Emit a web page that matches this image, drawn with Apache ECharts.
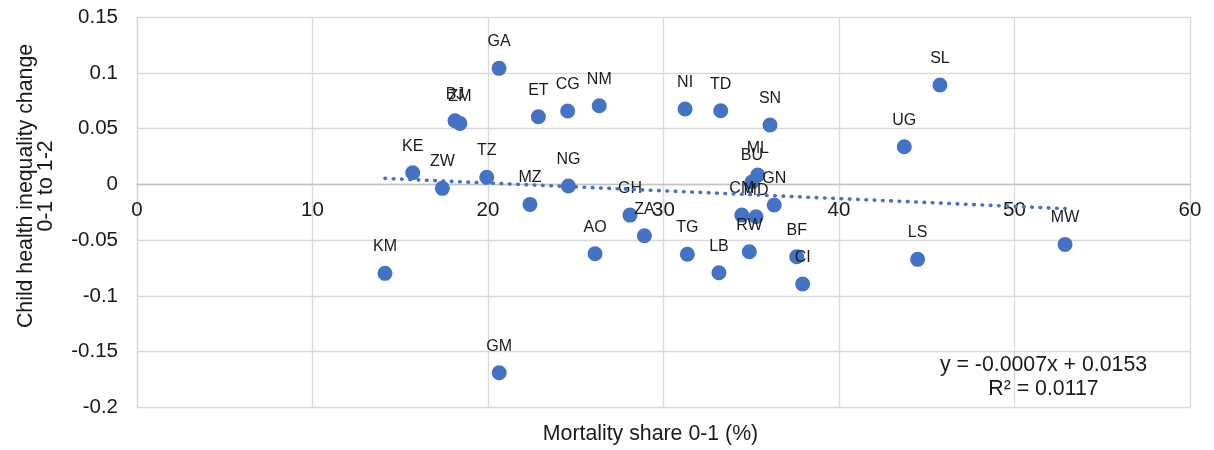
<!DOCTYPE html>
<html>
<head>
<meta charset="utf-8">
<script src="https://cdn.jsdelivr.net/npm/echarts@6/dist/echarts.min.js"></script>
<style>
  html, body { margin: 0; padding: 0; background: #fff; }
  #chart { width: 1214px; height: 450px; }
</style>
</head>
<body>
<div id="chart"></div>
<script>
// Country codes with mortality share 0-1 (%) and child health inequality change (0-1 to 1-2)
const countries = ['GA','SL','BJ','ZM','ET','CG','NM','NI','TD','SN','UG','KE','ZW','TZ','NG','MZ',
  'KM','AO','GM','ZA','GH','ML','BU','GN','CM','MD','TG','LB','RW','BF','CI','LS','MW'];
const mortalityShare = [20.63, 45.75, 18.12, 18.40, 22.87, 24.54, 26.34, 31.23, 33.26, 36.07, 43.72, 15.71, 17.40, 19.93, 24.58, 22.39,
  14.13, 26.10, 20.64, 28.91, 28.09, 35.37, 35.04, 36.31, 34.46, 35.27, 31.36, 33.16, 34.89, 37.59, 37.93, 44.48, 52.88];
const inequalityChange = [0.1042, 0.0892, 0.0572, 0.0548, 0.0608, 0.0659, 0.0706, 0.0677, 0.0661, 0.0533, 0.0338, 0.0105, -0.0035, 0.0064, -0.0014, -0.0179,
  -0.0798, -0.0622, -0.169, -0.046, -0.0275, 0.0084, 0.0022, -0.0185, -0.0275, -0.029, -0.0627, -0.0792, -0.0604, -0.0649, -0.0894, -0.0672, -0.0538];

// Linear trend as reported: y = slope * x + intercept
const trendSlope = -0.0007;
const trendIntercept = 0.0153;
const trendR2 = 0.0117;

const xTicks = [0, 10, 20, 30, 40, 50, 60];
const yTicks = [-0.2, -0.15, -0.1, -0.05, 0, 0.05, 0.1, 0.15];

const FONT = '"Liberation Sans", Arial, sans-serif';
const BLUE = '#4472C4';
const TEXT = '#1a1a1a';
const GRID = '#d9d9d9';

// Plot box
const GRID_TOP = 17.3, GRID_BOTTOM = 42.7, CHART_H = 450;
const plotH = CHART_H - GRID_TOP - GRID_BOTTOM;
const yMin = yTicks[0], yMax = yTicks[yTicks.length - 1];
// Lift the category axis (line + labels) from the bottom edge up to y = 0
const zeroLift = plotH * (0 - yMin) / (yMax - yMin);

const points = countries.map((c, i) => ({ name: c, value: [mortalityShare[i], inequalityChange[i]] }));
const xMinData = Math.min(...mortalityShare);
const xMaxData = Math.max(...mortalityShare);
const trend = [xMinData, xMaxData].map(x => [x, trendSlope * x + trendIntercept]);

const chart = echarts.init(document.getElementById('chart'), null, { renderer: 'canvas' });
chart.setOption({
  animation: false,
  backgroundColor: '#fff',
  textStyle: { fontFamily: FONT },
  grid: { left: 137, right: 24, top: GRID_TOP, bottom: GRID_BOTTOM, containLabel: false },
  xAxis: {
    type: 'value',
    min: xTicks[0], max: xTicks[xTicks.length - 1], interval: 10,
    position: 'bottom',
    offset: -zeroLift,
    axisLine: { show: true, onZero: false, lineStyle: { color: '#c4c4c4', width: 1.3 } },
    axisTick: { show: false },
    axisLabel: { fontSize: 20.5, color: TEXT, fontFamily: FONT, margin: 15 },
    splitLine: { show: true, lineStyle: { color: GRID, width: 1.3 } }
  },
  yAxis: {
    type: 'value',
    min: yMin, max: yMax, interval: 0.05,
    axisLine: { show: true, onZero: false, lineStyle: { color: GRID, width: 1.3 } },
    axisTick: { show: false },
    axisLabel: {
      fontSize: 20.5, color: TEXT, fontFamily: FONT, margin: 19,
      formatter: v => String(parseFloat(v.toFixed(2)))
    },
    splitLine: { show: true, lineStyle: { color: GRID, width: 1.3 } }
  },
  series: [
    {
      type: 'scatter',
      data: points,
      symbol: 'circle',
      symbolSize: 15,
      itemStyle: { color: BLUE, opacity: 1 },
      label: {
        show: true,
        position: 'top',
        distance: 11,
        formatter: p => p.name,
        fontSize: 16,
        color: TEXT,
        fontFamily: FONT
      },
      z: 3
    },
    {
      type: 'line',
      data: trend,
      symbol: 'none',
      lineStyle: { color: BLUE, width: 3.6, type: [0.6, 7.7], cap: 'round' },
      silent: true,
      z: 4
    }
  ],
  graphic: [
    {
      type: 'text',
      x: 36, y: 186,
      rotation: Math.PI / 2,
      style: {
        text: 'Child health inequality change\n0-1 to 1-2',
        font: '21.3px ' + FONT,
        fill: TEXT,
        align: 'center',
        verticalAlign: 'middle',
        lineHeight: 20
      }
    },
    {
      type: 'text',
      x: 650.5, y: 434,
      style: {
        text: 'Mortality share 0-1 (%)',
        font: '21.3px ' + FONT,
        fill: TEXT,
        align: 'center',
        verticalAlign: 'middle'
      }
    },
    {
      type: 'text',
      x: 1043.5, y: 377,
      style: {
        text: 'y = ' + trendSlope.toFixed(4) + 'x + ' + trendIntercept.toFixed(4) + '\nR\u00B2 = ' + trendR2.toFixed(4),
        font: '21.3px ' + FONT,
        fill: TEXT,
        align: 'center',
        verticalAlign: 'middle',
        lineHeight: 24
      },
      z: 10
    }
  ]
});
</script>
</body>
</html>
